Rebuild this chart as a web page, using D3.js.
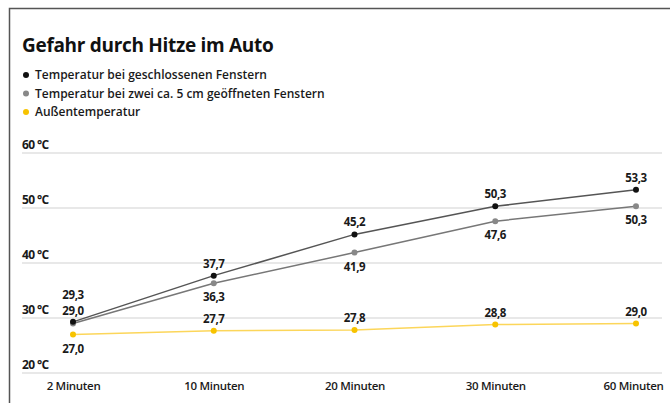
<!DOCTYPE html>
<html>
<head>
<meta charset="utf-8">
<script src="https://cdn.jsdelivr.net/npm/d3@7"></script>
<style>
  body { margin: 0; background: #fff; font-family: "Open Sans", "Noto Sans", sans-serif; }
</style>
</head>
<body>
<svg width="670" height="403"></svg>
<script>
var categories = ["2 Minuten", "10 Minuten", "20 Minuten", "30 Minuten", "60 Minuten"];
var closedWindows = [29.3, 37.7, 45.2, 50.3, 53.3];
var openWindows = [29.0, 36.3, 41.9, 47.6, 50.3];
var outside = [27.0, 27.7, 27.8, 28.8, 29.0];
var yTicks = [20, 30, 40, 50, 60];
var legendLabels = [
  "Temperatur bei geschlossenen Fenstern",
  "Temperatur bei zwei ca. 5 cm geöffneten Fenstern",
  "Außentemperatur"
];

var svg = d3.select("svg");
var fmt = function(v) { return d3.format(".1f")(v).replace(".", ","); };

// frame
svg.append("path")
    .attr("d", "M9.5,403 V8.5 H670")
    .attr("fill", "none")
    .attr("stroke", "#555")
    .attr("stroke-width", 1.5);

svg.append("text")
    .attr("x", 22).attr("y", 52)
    .attr("font-size", 19).attr("font-weight", 700)
    .attr("fill", "#111")
    .attr("letter-spacing", -0.3)
    .text("Gefahr durch Hitze im Auto");

var series = [
  { values: closedWindows, line: "#555", dot: "#111", labelPos: "above" },
  { values: openWindows, line: "#777", dot: "#888", labelPos: "below" },
  { values: outside, line: "#fcd65a", dot: "#f7c300", labelPos: "above" }
];

var legend = svg.append("g");
legendLabels.forEach(function(l, i) {
  var y = 79 + i * 18.5;
  legend.append("circle").attr("cx", 26).attr("cy", y - 4).attr("r", 3)
      .attr("fill", series[i].dot);
  legend.append("text").attr("x", 35).attr("y", y)
      .attr("font-size", 12).attr("font-weight", 600).attr("fill", "#1a1a1a")
      .text(l);
});

var x = d3.scalePoint().domain(categories).range([73, 636]);
var y = d3.scaleLinear().domain([20, 60]).range([373, 153]);

var grid = svg.append("g");
yTicks.forEach(function(t) {
  grid.append("line")
      .attr("x1", 22).attr("x2", 662)
      .attr("y1", y(t)).attr("y2", y(t))
      .attr("stroke", "#e8e8e8").attr("stroke-width", 2);
  grid.append("text")
      .attr("x", 22).attr("y", y(t) - 4)
      .attr("font-size", 12).attr("font-weight", 700).attr("fill", "#1a1a1a")
      .attr("letter-spacing", -0.6)
      .text(t + " °C");
});

var xAxis = svg.append("g")
    .attr("transform", "translate(0,373)")
    .call(d3.axisBottom(x).tickSize(0).tickPadding(9));
xAxis.select(".domain").remove();
xAxis.selectAll("text")
    .attr("font-family", "Open Sans, sans-serif")
    .attr("font-size", 11.5).attr("font-weight", 600).attr("fill", "#1a1a1a")
    .attr("letter-spacing", -0.3);
xAxis.selectAll(".tick").filter(function(d, i) { return i === categories.length - 1; })
    .select("text").attr("dx", -3);

var line = d3.line()
    .x(function(d, i) { return x(categories[i]); })
    .y(function(d) { return y(d); });

series.slice().reverse().forEach(function(s) {
  svg.append("path")
      .datum(s.values)
      .attr("fill", "none")
      .attr("stroke", s.line)
      .attr("stroke-width", 1.5)
      .attr("d", line);
  svg.selectAll(null).data(s.values).enter().append("circle")
      .attr("cx", function(d, i) { return x(categories[i]); })
      .attr("cy", function(d) { return y(d); })
      .attr("r", 3)
      .attr("fill", s.dot);
});

series.forEach(function(s, si) {
  svg.selectAll(null).data(s.values).enter().append("text")
      .attr("x", function(d, i) { return x(categories[i]); })
      .attr("y", function(d, i) {
        var pos = s.labelPos;
        if (si === 2 && i === 0) pos = "below";
        if (si === 1 && i === 0) return y(d) - 9;
        if (si === 0 && i === 0) return y(d) - 23;
        return pos === "above" ? y(d) - 8 : y(d) + 18;
      })
      .attr("text-anchor", "middle")
      .attr("font-size", 11.5).attr("font-weight", 700).attr("fill", "#1a1a1a")
      .attr("letter-spacing", -0.4)
      .text(function(d) { return fmt(d); });
});
</script>
</body>
</html>
